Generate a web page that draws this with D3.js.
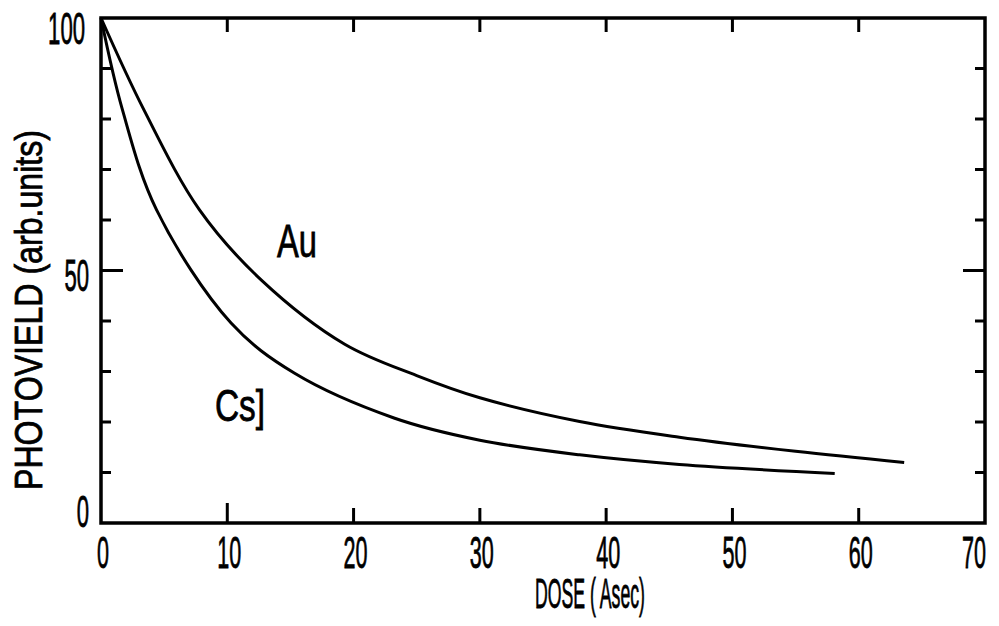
<!DOCTYPE html>
<html>
<head>
<meta charset="utf-8">
<script src="https://cdn.jsdelivr.net/npm/d3@7"></script>
<style>
  body { margin: 0; background: #fff; }
  svg { display: block; }
  text { font-family: "Liberation Sans", Arial, sans-serif; fill: #000; stroke: #000; stroke-width: 0.8; }
</style>
</head>
<body>
<svg width="999" height="626"></svg>
<script>
// values
var auDose  = [0, 3.4, 7.8, 12.7, 19.3, 25.0, 30.0, 37.9, 45.8, 55.0, 63.6];
var auYield = [100, 81.8, 62.0, 48.1, 35.4, 29.2, 24.8, 20.1, 17.0, 14.2, 12.0];
var csDose  = [0, 1.7, 4.4, 10.3, 15.3, 23.2, 30.0, 37.9, 45.8, 58.1];
var csYield = [100, 81.8, 62.0, 39.6, 29.7, 20.8, 16.4, 13.5, 11.6, 9.8];
var xTicks = [0, 10, 20, 30, 40, 50, 60, 70];
var yTicks = [0, 50, 100];
var yMinor = [10, 20, 30, 40, 50, 60, 70, 80, 90];

var svg = d3.select("svg");

var x = d3.scaleLinear().domain([0, 70]).range([101, 985]);
var y = d3.scaleLinear().domain([0, 100]).range([523, 18]);

// condensed looking text: squeeze to a given width
function label(txt, left, base, size, len, rot) {
    var t = svg.append("text")
        .attr("x", left).attr("y", base)
        .attr("font-size", size)
        .attr("textLength", len)
        .attr("lengthAdjust", "spacingAndGlyphs")
        .text(txt);
    if (rot) t.attr("transform", "rotate(-90," + left + "," + base + ")");
    return t;
}

// curves
var line = d3.line()
    .x(function (d) { return x(d[0]); })
    .y(function (d) { return y(d[1]); })
    .curve(d3.curveCatmullRom.alpha(0.5));

svg.append("path")
    .datum(d3.zip(auDose, auYield))
    .attr("d", line)
    .attr("fill", "none").attr("stroke", "#000").attr("stroke-width", 3);

svg.append("path")
    .datum(d3.zip(csDose, csYield))
    .attr("d", line)
    .attr("fill", "none").attr("stroke", "#000").attr("stroke-width", 3);

// frame
svg.append("rect")
    .attr("x", x(0)).attr("y", y(100))
    .attr("width", x(70) - x(0)).attr("height", y(0) - y(100))
    .attr("fill", "none").attr("stroke", "#000").attr("stroke-width", 3.5);

// ticks, all inward
var tg = svg.append("g").attr("stroke", "#000").attr("stroke-width", 3);
yMinor.forEach(function (v) {
    var len = v === 50 ? 22 : 10;
    tg.append("line").attr("x1", x(0)).attr("x2", x(0) + len).attr("y1", y(v)).attr("y2", y(v));
    tg.append("line").attr("x1", x(70)).attr("x2", x(70) - len).attr("y1", y(v)).attr("y2", y(v));
});
xTicks.slice(1, -1).forEach(function (v) {
    tg.append("line").attr("x1", x(v)).attr("x2", x(v)).attr("y1", y(0)).attr("y2", y(0) - (v === 10 ? 20 : 15));
    tg.append("line").attr("x1", x(v)).attr("x2", x(v)).attr("y1", y(100)).attr("y2", y(100) + 14);
});

// tick labels
xTicks.forEach(function (v) {
    var s = String(v), w = s.length * 12;
    var cx = Math.min(x(v) + 2, 974);
    label(s, cx - w / 2, 568, 44, w);
});
yTicks.forEach(function (v) {
    var s = String(v), w = s.length * 12.3;
    var base = v === 100 ? 44 : (v === 50 ? 291 : 527);
    label(s, 89 - w - (v === 100 ? 4 : 0), base, 44, w);
});

// axis titles
label("DOSE ( Asec)", 535, 608, 43, 110);
label("PHOTOVIELD (arb.units)", 42, 490, 39, 360, true);

// curve labels
label("Au", 277, 257, 47, 40);
label("Cs]", 215, 421, 45, 50);
</script>
</body>
</html>
